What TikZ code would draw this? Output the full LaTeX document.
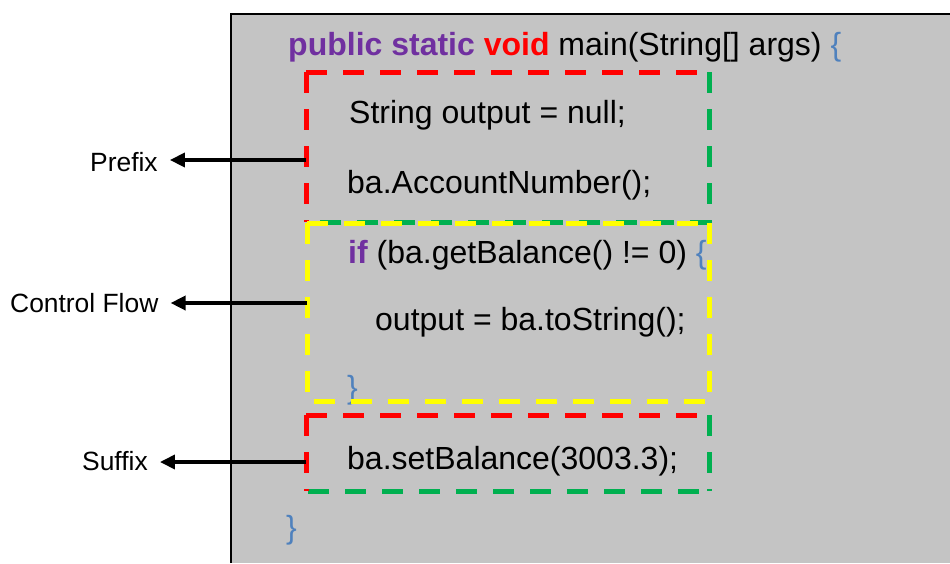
\documentclass[tikz,border=0pt]{standalone}
\usepackage{fontspec}
\setmainfont{Liberation Sans}
\usetikzlibrary{arrows.meta}
\definecolor{panel}{RGB}{196,196,196}
\definecolor{kwpurple}{RGB}{112,48,160}
\definecolor{kwred}{RGB}{255,0,0}
\definecolor{brblue}{RGB}{79,129,189}
\definecolor{bxgreen}{RGB}{0,176,80}
\definecolor{bxyellow}{RGB}{255,255,0}
\tikzset{
  code/.style={anchor=base west, inner sep=0pt, font=\fontsize{32}{38}\selectfont},
  lbl/.style={anchor=base west, inner ysep=0pt, inner xsep=12pt, font=\fontsize{26.4}{31}\selectfont},
  seg/.style={line width=5pt, dash pattern=on 21pt off 16pt},
  arr/.style={line width=3.5pt, -{Triangle[length=15pt,width=14pt]}},
}
\begin{document}
\begin{tikzpicture}[x=1pt,y=-1pt]
\useasboundingbox (0,0) rectangle (950,563);
% code panel
\fill[panel] (231,14) rectangle (950,563);
\draw[line width=2pt] (231,563) -- (231,14) -- (950,14);

% source lines
\node[code] (hdr) at (288,55) {\textbf{\color{kwpurple}public static \color{kwred}void} main(String[] args) {\color{brblue}\{}};
\node[code] (l1) at (349,123) {String output = null;};
\node[code] (l2) at (347,193) {ba.AccountNumber();};
\node[code] (l3) at (348,263) {\textbf{\color{kwpurple}if} (ba.getBalance() != 0) {\color{brblue}\{}};
\node[code] (l4) at (375,330) {output = ba.toString();};
\node[code] (l5) at (347,398) {\color{brblue}\}};
\node[code] (l6) at (347,469) {ba.setBalance(3003.3);};
\node[code] (l7) at (286,538) {\color{brblue}\}};

% prefix region
\draw[seg, bxgreen] (709,72) -- (709,222) -- (306,222);
\draw[seg, kwred] (306,72) -- (306,222);
\draw[seg, kwred] (306,72) -- (709,72);
% control-flow region
\draw[seg, bxyellow] (307,223) -- (709,223);
\draw[seg, bxyellow] (307,223) -- (307,401) -- (709,401);
\draw[seg, bxyellow] (709,223) -- (709,401);
% suffix region
\draw[seg, bxgreen] (709,415) -- (709,491);
\draw[seg, bxgreen] (308,491) -- (709,491);
\draw[seg, kwred] (306,415) -- (709,415);
\draw[seg, kwred] (306,415) -- (306,491);

% labels and pointers
\coordinate (pre) at (306,160);
\coordinate (cfl) at (307,303);
\coordinate (suf) at (306,462);
\node[lbl] (prefix) at (78,171) {Prefix};
\node[lbl] (control) at (-2,312) {Control Flow};
\node[lbl] (suffix) at (70,470) {Suffix};
\draw[arr] (pre) -- (pre -| prefix.east);
\draw[arr] (cfl) -- (cfl -| control.east);
\draw[arr] (suf) -- (suf -| suffix.east);
\end{tikzpicture}
\end{document}
